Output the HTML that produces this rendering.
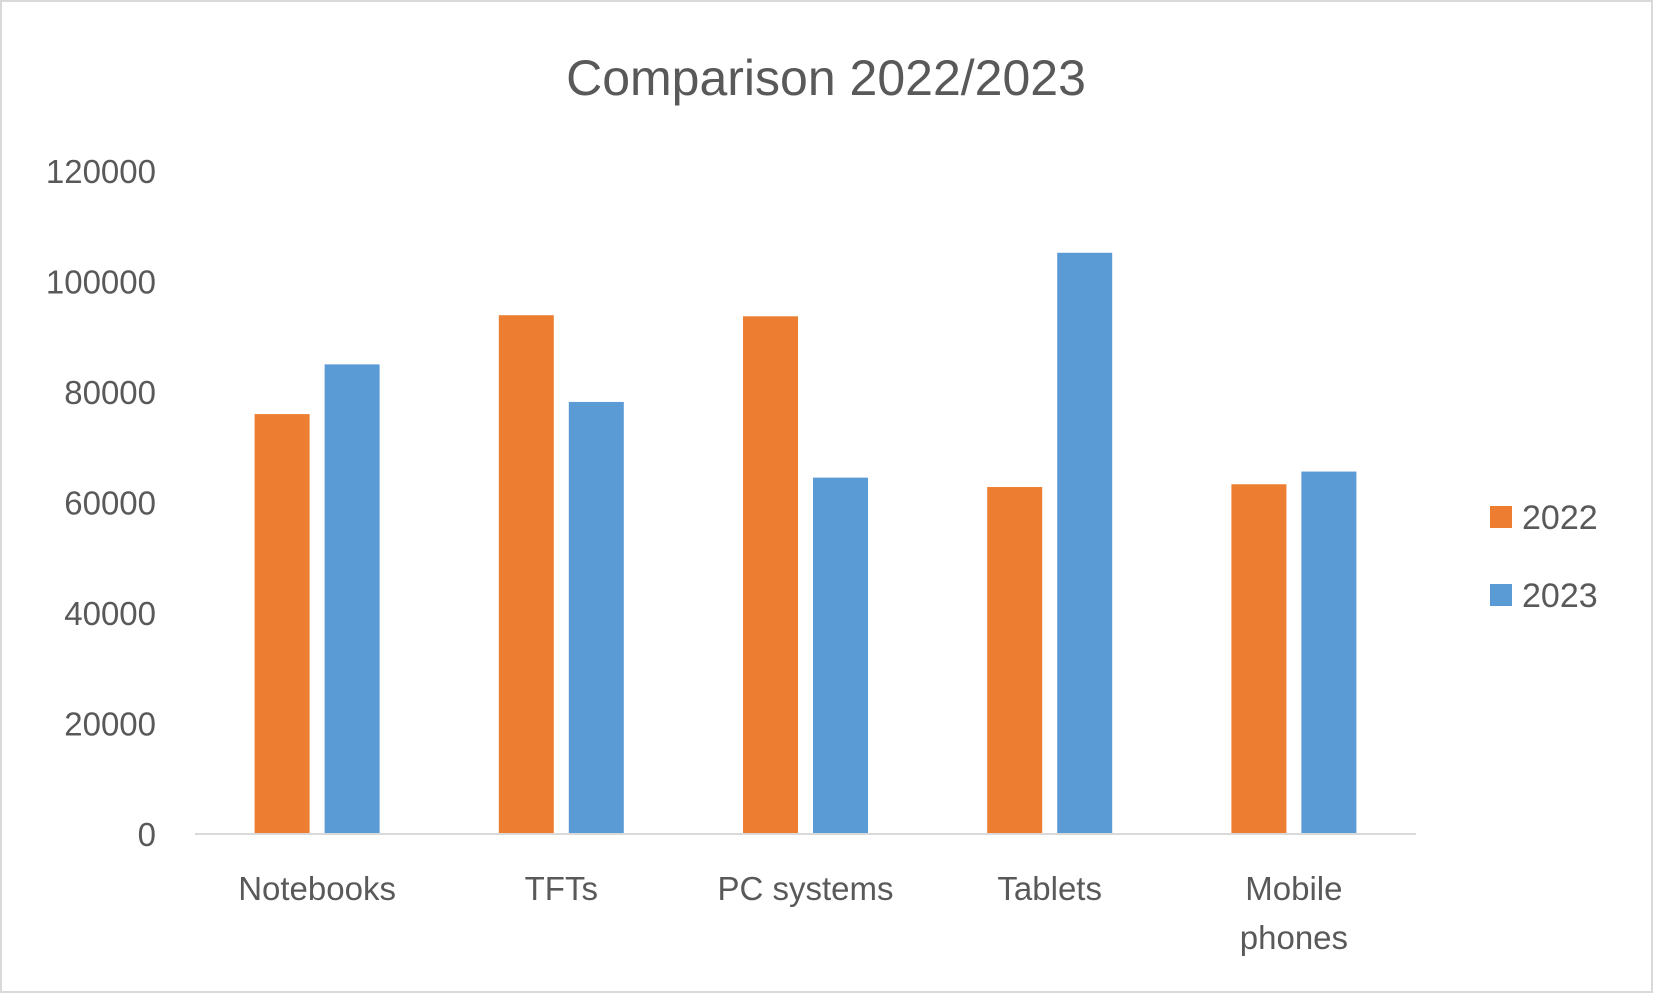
<!DOCTYPE html>
<html><head><meta charset="utf-8"><style>
html,body{margin:0;padding:0;background:#fff}
svg{display:block}
text{font-family:"Liberation Sans",sans-serif;fill:#595959}
</style></head><body>
<svg id="chart" width="1653" height="993" viewBox="0 0 1653 993" xmlns="http://www.w3.org/2000/svg">
<rect x="1" y="1" width="1651" height="991" fill="#fff" stroke="#d9d9d9" stroke-width="2"/>
<text x="826" y="95" font-size="50" text-anchor="middle">Comparison 2022/2023</text>
<g id="yaxis"></g>
<g id="bars"></g>
<line x1="195" y1="834" x2="1416" y2="834" stroke="#d9d9d9" stroke-width="2"/>
<g id="xaxis"></g>
<g>
<g><rect x="1490" y="506" width="22" height="22" fill="#ed7d31"/><text x="1522" y="529" font-size="34">2022</text></g>
<g><rect x="1490" y="584" width="22" height="22" fill="#5b9bd5"/><text x="1522" y="607" font-size="34">2023</text></g>
</g>
</svg>
<script>
const categories = [["Notebooks"],["TFTs"],["PC systems"],["Tablets"],["Mobile","phones"]];
const values2022 = [76000, 93900, 93700, 62800, 63300];
const values2023 = [85000, 78200, 64500, 105200, 65600];
const yTicks = [0, 20000, 40000, 60000, 80000, 100000, 120000];
const NS = "http://www.w3.org/2000/svg";
const x0 = 195, x1 = 1416, yBase = 834, yTop = 171, yMax = 120000;
const band = (x1 - x0) / categories.length;
const barW = 55, gap = 15;
function y(v){ return yBase - (v / yMax) * (yBase - yTop); }
function bandStart(i){ return x0 + i * band; }
const yg = document.getElementById('yaxis');
yTicks.forEach(t => {
  const el = document.createElementNS(NS, 'text');
  
  
  el.setAttribute('x', 156);
  el.setAttribute('y', y(t) + 12);
  el.setAttribute('font-size', '33');
  el.setAttribute('text-anchor', 'end');
  el.textContent = t;
  yg.appendChild(el);
});
const bg = document.getElementById('bars');
const xg = document.getElementById('xaxis');
categories.forEach((c, i) => {
  const cx = bandStart(i) + band / 2;
  [[values2022, '#ed7d31', -1], [values2023, '#5b9bd5', 1]].forEach(([arr, col, side]) => {
    const r = document.createElementNS(NS, 'rect');
    
    
    const bx = side < 0 ? cx - gap / 2 - barW : cx + gap / 2;
    r.setAttribute('x', bx);
    r.setAttribute('y', y(arr[i]));
    r.setAttribute('width', barW);
    r.setAttribute('height', yBase - y(arr[i]));
    r.setAttribute('fill', col);
    bg.appendChild(r);
  });
  c.forEach((line, k) => {
    const t = document.createElementNS(NS, 'text');
    
    
    t.setAttribute('x', cx);
    t.setAttribute('y', 900 + k * 49);
    t.setAttribute('font-size', '33');
    t.setAttribute('text-anchor', 'middle');
    t.textContent = line;
    xg.appendChild(t);
  });
});
</script>
</body></html>
